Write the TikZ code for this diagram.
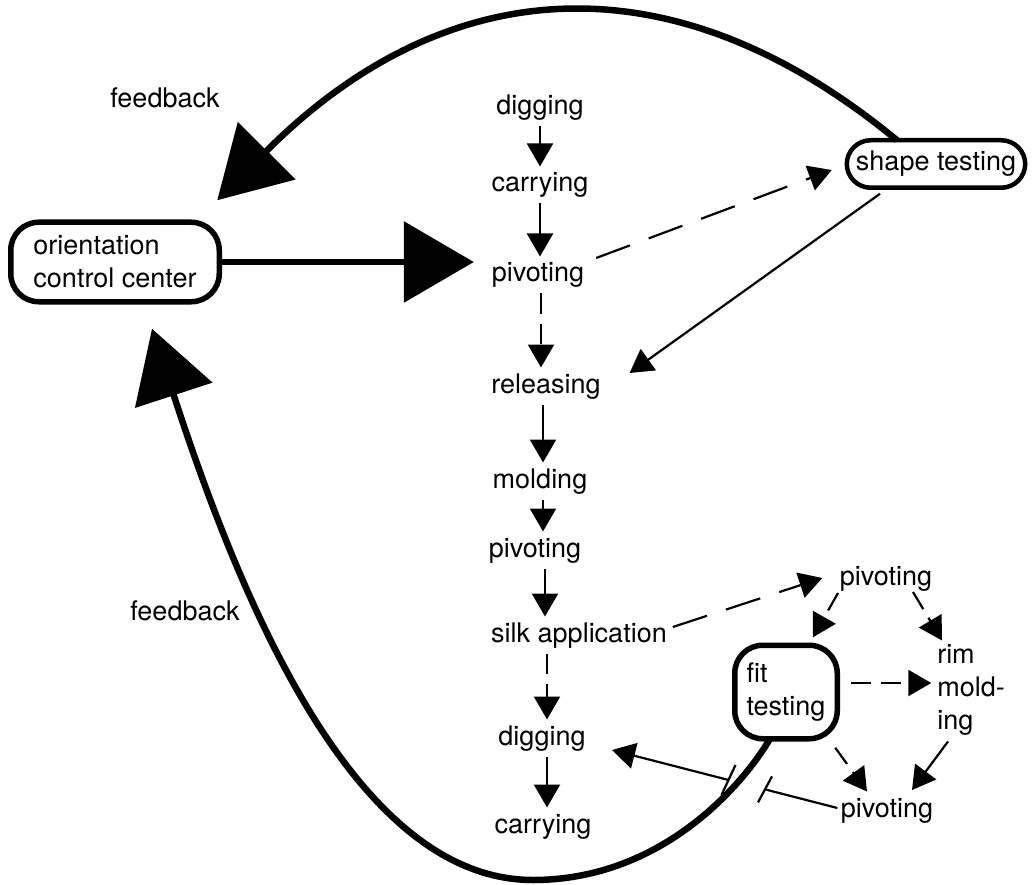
\documentclass[tikz,border=0pt]{standalone}
\usepackage{fontspec}
\setmainfont{TeX Gyre Heros}
\usetikzlibrary{arrows.meta,calc}
\begin{document}
\begin{tikzpicture}[x=1pt,y=-1pt,
  txt/.style={font=\fontsize{27}{33}\selectfont, inner sep=0pt, outer sep=6pt},
  lbl/.style={txt, text height=19.5pt, text depth=5.5pt},
  box/.style={draw, line width=5.5pt, font=\fontsize{27}{33}\selectfont, align=left, inner sep=0pt, outer sep=0pt},
  arr/.style={line width=2.2pt, -{Triangle[length=23pt,width=26pt]}},
  bigarr/.style={line width=6.5pt, -{Triangle[length=70pt,width=80pt]}},
  thinline/.style={line width=2.2pt},
  dsh/.style={dash pattern=on 20pt off 10pt},
  dshlong/.style={dash pattern=on 36pt off 20pt},
]
\useasboundingbox (0,0) rectangle (1033,885);

% text nodes
\node[lbl] (d1) at (540,108) {digging};
\node[lbl] (c1) at (540,185) {carrying};
\node[lbl] (p1) at (538,275) {pivoting};
\node[lbl] (rel) at (546,386) {releasing};
\node[lbl] (mold) at (540,481) {molding};
\node[lbl] (p2) at (535,550) {pivoting};
\node[lbl] (silk) at (579,635) {silk application};
\node[lbl] (d2) at (542,738) {digging};
\node[lbl] (c2) at (543,826) {carrying};
\node[lbl] (p3) at (886,578) {pivoting};
\node[lbl] (p4) at (887,810) {pivoting};
\node[txt, align=left] (rim) at (971,690) {rim\\mold-\\ing};
\node[lbl] (fb1) at (165,101) {feedback};
\node[lbl] (fb2) at (185,613) {feedback};

% boxes
\node[box, rounded corners=28pt, minimum width=208.5pt, minimum height=79.5pt] (occ) at (115,262) {orientation\\control center};
\node[box, line width=4.5pt, rounded corners=24pt, minimum width=178.5pt, minimum height=47.5pt] (shape) at (936,164) {shape testing};
\node[box, rounded corners=28pt, minimum width=102.5pt, minimum height=93.5pt] (fit) at (786,692) {fit\\testing};

% main column
\draw[arr] (d1) -- (c1);
\draw[arr] (c1.south) -- (c1.south |- p1.north);
\draw[arr,dsh] ([xshift=3pt]p1.south) -- ([xshift=-5pt]rel.north);
\draw[arr] ([xshift=-3pt]rel.south) -- ([xshift=3pt]mold.north);
\draw[arr] ([xshift=3pt]mold.south) -- ([xshift=8pt]p2.north);
\draw[arr] ([xshift=10pt]p2.south) -- ([xshift=-34pt]silk.north);
\draw[arr,dsh] ([xshift=-32pt]silk.south) -- ([xshift=5pt]d2.north);
\draw[arr] ([xshift=5pt]d2.south) -- ([xshift=4pt]c2.north);

% shape testing loop
\draw[arr,dshlong] ([xshift=6pt,yshift=17pt]p1.east) -- ([xshift=-15pt,yshift=-6pt]shape.west);
\draw[arr] ([xshift=-56pt,yshift=-6pt]shape.south) -- ([xshift=23pt,yshift=13pt]rel.east);

% fit testing region
\draw[arr,dshlong] ([yshift=8pt]silk.east) -- ([xshift=-11.5pt]p3.west);
\draw[arr,dsh] ([xshift=-48pt,yshift=3.5pt]p3.south) -- ([xshift=27pt,yshift=8pt]fit.north);
\draw[arr,dsh] ([xshift=27pt,yshift=4.5pt]p3.south) -- ([xshift=-29pt,yshift=-2pt]rim.north);
\draw[arr,dsh,shorten <=14pt] ([yshift=9pt]fit.east) -- ([yshift=9pt]fit.east -| rim.west);
\draw[arr,dsh] ([xshift=-2pt,yshift=-9pt]fit.south east) -- ([xshift=-20pt]p4.north);
\draw[arr] ([xshift=-23pt]rim.south) -- ([xshift=25pt,yshift=1.5pt]p4.north);

% pivoting -> digging, bridged over the feedback curve
\coordinate (pA) at ([xshift=2.5pt,yshift=2pt]p4.west);
\coordinate (pB) at ([xshift=20.5pt,yshift=6.5pt]d2.south east);
\draw[arr] (pA) -- (pB);
\coordinate (t1) at ($(pA)!0.321!(pB)$);
\coordinate (t2) at ($(pA)!0.483!(pB)$);
\draw[white, line width=6pt] (t1) -- (t2);
\draw[thinline] ($(t1)+(-7,13)$) -- ($(t1)+(7,-13)$);
\draw[thinline] ($(t2)+(-7,15)$) -- ($(t2)+(7,-15)$);

% big arrows
\draw[bigarr] (occ.east) -- ($(occ.east -| p1.west)+(-12,0)$);
\coordinate (tip1) at ($(occ.north east)+(-2,-22)$);
\coordinate (tip2) at ($(occ.south)+(37,27)$);
\draw[bigarr] ([xshift=-39pt]shape.north) .. controls (670,-47) and (444,-27) .. (tip1);
\draw[bigarr] ([xshift=-16pt]fit.south) .. controls (744,783) and (663,880) .. (533,880) .. controls (353,880) and (239,595) .. (tip2);
\end{tikzpicture}
\end{document}
